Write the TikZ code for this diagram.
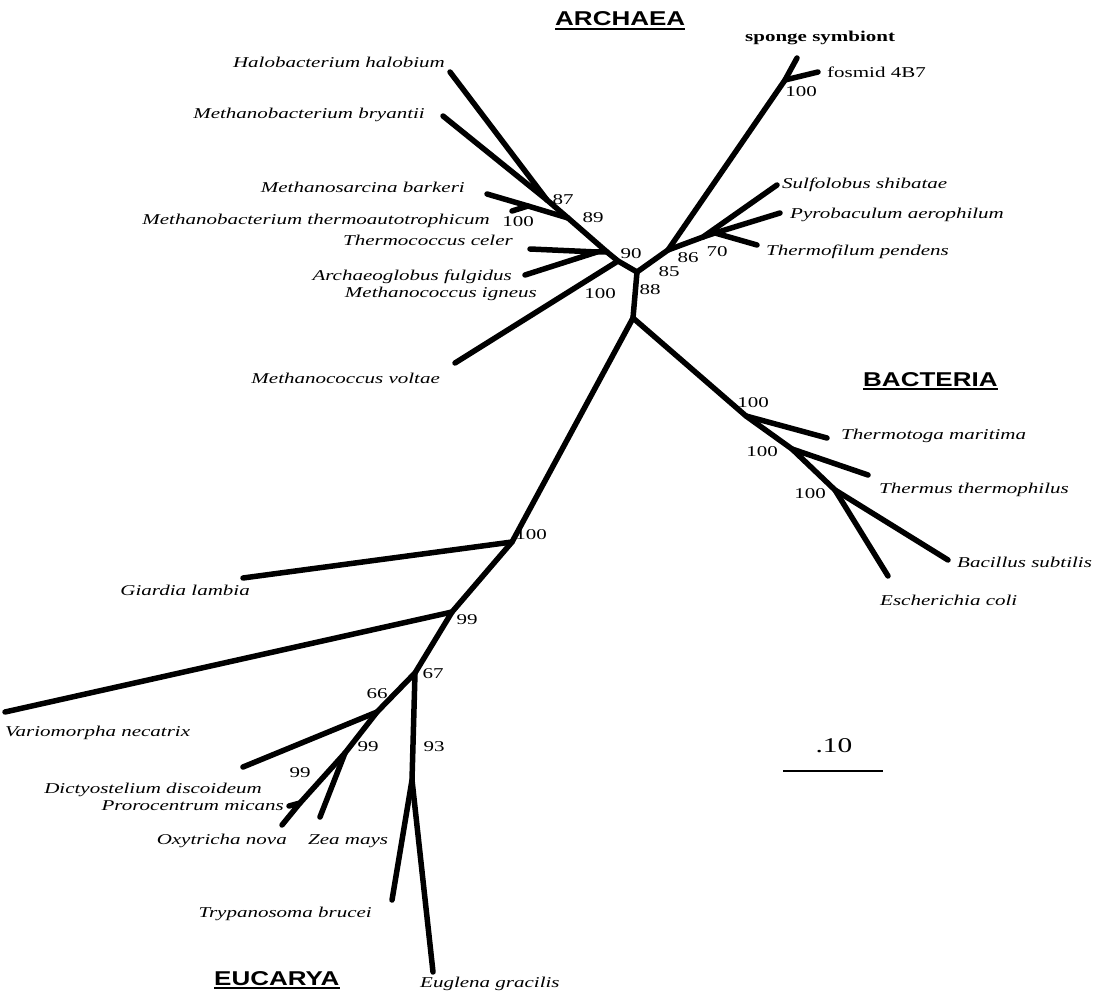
\documentclass[tikz,border=0pt]{standalone}
\usepackage{fontspec}
\setmainfont{Liberation Serif}[FakeStretch=1.4]
\newfontfamily\hfont{Liberation Sans}[FakeStretch=1.3]
\begin{document}
\begin{tikzpicture}[x=1pt,y=-1pt,
  br/.style={line width=5.5pt,line cap=round,line join=round},
  sp/.style={font=\fontsize{15}{18}\selectfont\itshape,inner sep=0pt},
  nm/.style={font=\fontsize{15}{18}\selectfont,inner sep=0pt},
  bnm/.style={font=\fontsize{15}{18}\selectfont\bfseries,inner sep=0pt},
  hd/.style={font=\hfont\bfseries\fontsize{20}{24}\selectfont,inner sep=0pt},
  ul/.style={line width=2pt}]
\useasboundingbox (0,0) rectangle (1097,1000);
% ---------- tree coordinates ----------
% Archaea
\coordinate (halo) at (450,72);
\coordinate (bry) at (443,116);
\coordinate (a87) at (547,200);
\coordinate (a89) at (568,218);
\coordinate (bark) at (487,194);
\coordinate (mtj) at (528,206);
\coordinate (mth) at (512,211);
\coordinate (celer) at (530,249);
\coordinate (arch) at (525,275);
\coordinate (ca) at (597,252);
\coordinate (a90) at (607,252);
\coordinate (mc) at (618,261);
\coordinate (volt) at (455,363);
\coordinate (aroot) at (637,272);
\coordinate (cren) at (668,250);
\coordinate (spn) at (785,80);
\coordinate (sponge) at (797,58);
\coordinate (fos) at (818,72);
\coordinate (sulfn) at (703,237);
\coordinate (sulf) at (777,185);
\coordinate (pyron) at (715,233);
\coordinate (pyro) at (780,213);
\coordinate (tfil) at (757,245);
\coordinate (center) at (633,318);
% Bacteria
\coordinate (b1) at (746,416);
\coordinate (tmar) at (827,438);
\coordinate (b2) at (792,449);
\coordinate (tth) at (868,475);
\coordinate (b3) at (835,490);
\coordinate (bsub) at (948,560);
\coordinate (ecol) at (888,576);
% Eucarya
\coordinate (e100) at (512,542);
\coordinate (giar) at (243,578);
\coordinate (e99) at (452,612);
\coordinate (vari) at (5,712);
\coordinate (e67) at (415,673);
\coordinate (e66) at (377,712);
\coordinate (dict) at (243,767);
\coordinate (e99b) at (345,753);
\coordinate (zea) at (320,817);
\coordinate (prn) at (300,803);
\coordinate (pro) at (289,806);
\coordinate (oxy) at (282,825);
\coordinate (e93) at (412,780);
\coordinate (tryp) at (392,900);
\coordinate (eugl) at (433,972);
% ---------- branches ----------
\draw[br] (halo) -- (a87) -- (a89) -- (a90) -- (mc) -- (aroot) -- (center);
\draw[br] (bry) -- (a87);
\draw[br] (bark) -- (mtj) -- (a89);
\draw[br] (mth) -- (mtj);
\draw[br] (celer) -- (ca) -- (a90);
\draw[br] (arch) -- (ca);
\draw[br] (volt) -- (mc);
\draw[br] (aroot) -- (cren) -- (spn) -- (sponge);
\draw[br] (spn) -- (fos);
\draw[br] (cren) -- (sulfn) -- (sulf);
\draw[br] (sulfn) -- (pyron) -- (pyro);
\draw[br] (pyron) -- (tfil);
\draw[br] (center) -- (b1) -- (b2) -- (b3) -- (bsub);
\draw[br] (b1) -- (tmar);
\draw[br] (b2) -- (tth);
\draw[br] (b3) -- (ecol);
\draw[br] (center) -- (e100) -- (e99) -- (e67) -- (e66) -- (e99b) -- (prn) -- (oxy);
\draw[br] (e100) -- (giar);
\draw[br] (e99) -- (vari);
\draw[br] (e66) -- (dict);
\draw[br] (e99b) -- (zea);
\draw[br] (prn) -- (pro);
\draw[br] (e67) -- (e93) -- (tryp);
\draw[br] (e93) -- (eugl);
% ---------- species labels ----------
\node[sp,anchor=east] (lhalo) at (445,62) {Halobacterium halobium};
\node[sp,anchor=east] (lbry) at (425,115) {Methanobacterium bryantii};
\node[sp,anchor=east] (lbark) at (465,187) {Methanosarcina barkeri};
\node[sp,anchor=east] (lmth) at (490,221) {Methanobacterium thermoautotrophicum};
\node[sp,anchor=east] (lcel) at (513,240) {Thermococcus celer};
\node[sp,anchor=east] (larch) at (512,277) {Archaeoglobus fulgidus};
\node[sp,anchor=east] (lign) at (537,294) {Methanococcus igneus};
\node[sp,anchor=east] (lvolt) at (440,378) {Methanococcus voltae};
\node[bnm,anchor=west] (lspo) at (745,38) {sponge symbiont};
\node[nm,anchor=west] (lfos) at (827,72) {fosmid 4B7};
\node[sp,anchor=west] (lsulf) at (782,185) {Sulfolobus shibatae};
\node[sp,anchor=west] (lpyro) at (790,215) {Pyrobaculum aerophilum};
\node[sp,anchor=west] (ltfil) at (766,252) {Thermofilum pendens};
\node[sp,anchor=west] (ltmar) at (841,436) {Thermotoga maritima};
\node[sp,anchor=west] (ltth) at (879,490) {Thermus thermophilus};
\node[sp,anchor=west] (lbsub) at (957,562) {Bacillus subtilis};
\node[sp,anchor=west] (lecol) at (880,600) {Escherichia coli};
\node[sp,anchor=east] (lgiar) at (250,590) {Giardia lambia};
\node[sp,anchor=west] (lvari) at (5,733) {Variomorpha necatrix};
\node[sp,anchor=east] (ldict) at (262,790) {Dictyostelium discoideum};
\node[sp,anchor=east] (lpro) at (284,806) {Prorocentrum micans};
\node[sp,anchor=east] (loxy) at (287,841) {Oxytricha nova};
\node[sp,anchor=west] (lzea) at (308,841) {Zea mays};
\node[sp,anchor=east] (ltryp) at (372,914) {Trypanosoma brucei};
\node[sp,anchor=west] (leugl) at (420,984) {Euglena gracilis};
% ---------- bootstrap values ----------
\node[nm] (n100a) at (518,222) {100};
\node[nm] (n87) at (563,200) {87};
\node[nm] (n89) at (593,218) {89};
\node[nm] (n90) at (631,254) {90};
\node[nm] (n100b) at (600,294) {100};
\node[nm] (n85) at (669,272) {85};
\node[nm] (n86) at (688,258) {86};
\node[nm] (n70) at (717,252) {70};
\node[nm] (n88) at (650,290) {88};
\node[nm] (n100c) at (801,92) {100};
\node[nm] (n100d) at (753,403) {100};
\node[nm] (n100e) at (762,452) {100};
\node[nm] (n100f) at (810,494) {100};
\node[nm] (n100g) at (531,535) {100};
\node[nm] (n99a) at (467,620) {99};
\node[nm] (n67) at (433,674) {67};
\node[nm] (n66) at (377,694) {66};
\node[nm] (n99b) at (368,747) {99};
\node[nm] (n93) at (434,747) {93};
\node[nm] (n99c) at (300,773) {99};
% ---------- domain headings ----------
\node[hd,anchor=base west] (hA) at (555,26) {ARCHAEA};
\draw[ul] ([yshift=-3pt]hA.base west) -- ([yshift=-3pt]hA.base east);
\node[hd,anchor=base west] (hB) at (863,386) {BACTERIA};
\draw[ul] ([yshift=-3pt]hB.base west) -- ([yshift=-3pt]hB.base east);
\node[hd,anchor=base west] (hE) at (214,985) {EUCARYA};
\draw[ul] ([yshift=-3pt]hE.base west) -- ([yshift=-3pt]hE.base east);
% ---------- scale bar ----------
\coordinate (sb1) at (783,771);
\coordinate (sb2) at (883,771);
\draw[line width=2pt] (sb1) -- (sb2);
\node[font=\fontsize{21}{24}\selectfont,inner sep=0pt] (lsb) at (834,746) {.10};
\end{tikzpicture}
\end{document}
